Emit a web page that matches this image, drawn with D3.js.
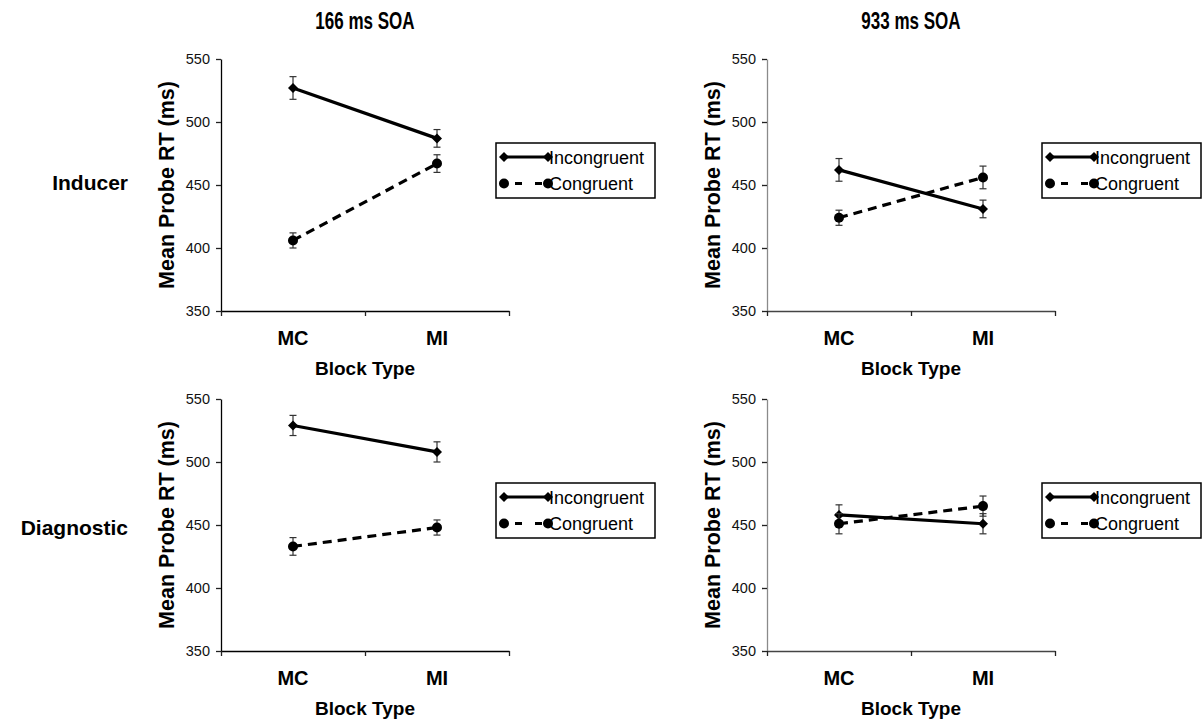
<!DOCTYPE html>
<html>
<head>
<meta charset="utf-8">
<script src="https://cdn.jsdelivr.net/npm/d3@7"></script>
<style>
  body { margin: 0; background: #fff; }
  text { font-family: "Liberation Sans", Arial, sans-serif; }
</style>
</head>
<body>
<svg id="canvas"></svg>
<script>
// values (mean probe RT in ms, with error bars)
const categories = ["MC", "MI"];
const seriesNames = ["Incongruent", "Congruent"];
const soaTitles = ["166 ms SOA", "933 ms SOA"];
const rowNames = ["Inducer", "Diagnostic"];
const yTicks = [350, 400, 450, 500, 550];

const inducer166Incongruent = [527, 487];
const inducer166IncongruentErr = [9, 7];
const inducer166Congruent = [406, 467];
const inducer166CongruentErr = [6, 7];

const inducer933Incongruent = [462, 431];
const inducer933IncongruentErr = [9, 7];
const inducer933Congruent = [424, 456];
const inducer933CongruentErr = [6, 9];

const diagnostic166Incongruent = [529, 508];
const diagnostic166IncongruentErr = [8, 8];
const diagnostic166Congruent = [433, 448];
const diagnostic166CongruentErr = [7, 6];

const diagnostic933Incongruent = [458, 451];
const diagnostic933IncongruentErr = [8, 8];
const diagnostic933Congruent = [451, 465];
const diagnostic933CongruentErr = [8, 8];

const svg = d3.select("#canvas");
const width = 1202;
const height = 724;
svg.attr("width", width).attr("height", height);

// panel layout (plot area corners)
const colX = [221, 767];
const rowY = [59, 399];
const plotW = 288;
const plotH = 252;

const panels = [
  {col: 0, row: 0, inc: inducer166Incongruent, incErr: inducer166IncongruentErr, con: inducer166Congruent, conErr: inducer166CongruentErr},
  {col: 1, row: 0, inc: inducer933Incongruent, incErr: inducer933IncongruentErr, con: inducer933Congruent, conErr: inducer933CongruentErr},
  {col: 0, row: 1, inc: diagnostic166Incongruent, incErr: diagnostic166IncongruentErr, con: diagnostic166Congruent, conErr: diagnostic166CongruentErr},
  {col: 1, row: 1, inc: diagnostic933Incongruent, incErr: diagnostic933IncongruentErr, con: diagnostic933Congruent, conErr: diagnostic933CongruentErr}
];

const diamond = "M0,-5L5,0L0,5L-5,0Z";

function marker(sel, kind) {
  if (kind === 0) {
    sel.append("path").attr("d", diamond).attr("fill", "#000");
  } else {
    sel.append("circle").attr("r", 5).attr("fill", "#000");
  }
}

panels.forEach(p => {
  const x0 = colX[p.col];
  const y0 = rowY[p.row];
  const axisColor = p.col === 0 ? "#000" : "#8a8a8a";

  const xScale = d3.scaleBand().domain(categories).range([x0, x0 + plotW]);
  const xEdges = d3.scaleLinear().domain([0, categories.length]).range([x0, x0 + plotW]);
  const yScale = d3.scaleLinear().domain([350, 550]).range([y0 + plotH, y0]);

  const g = svg.append("g");

  // y axis
  const ya = g.append("g")
    .attr("transform", `translate(${x0},0)`)
    .call(d3.axisLeft(yScale).tickValues(yTicks).tickSize(5).tickSizeOuter(0));
  ya.select(".domain").attr("stroke", axisColor).attr("stroke-width", 1.3);
  ya.selectAll(".tick line").attr("stroke", "#222").attr("stroke-width", 1.3);
  ya.selectAll(".tick text").attr("font-size", 14.5).attr("fill", "#111")
    .attr("font-family", "Liberation Sans, Arial, sans-serif").attr("x", -11);

  // x axis with ticks at category boundaries
  const xa = g.append("g")
    .attr("transform", `translate(0,${y0 + plotH})`)
    .call(d3.axisBottom(xEdges).tickValues([0, 1, 2]).tickFormat("").tickSize(5).tickSizeOuter(0));
  xa.select(".domain").attr("stroke", p.col === 0 ? "#000" : "#444").attr("stroke-width", 1.3);
  xa.selectAll(".tick line").attr("stroke", "#222").attr("stroke-width", 1.3);

  // category labels
  const xl = g.append("g")
    .attr("transform", `translate(0,${y0 + plotH})`)
    .call(d3.axisBottom(xScale).tickSize(0));
  xl.select(".domain").remove();
  xl.selectAll(".tick text")
    .attr("y", 34).attr("dy", 0)
    .attr("font-size", 20).attr("font-weight", "bold").attr("fill", "#000")
    .attr("font-family", "Liberation Sans, Arial, sans-serif");

  g.append("text")
    .attr("x", x0 + plotW / 2).attr("y", y0 + plotH + 64)
    .attr("text-anchor", "middle").attr("font-size", 19).attr("font-weight", "bold")
    .text("Block Type");

  g.append("text")
    .attr("transform", `translate(${x0 - 47},${y0 + plotH / 2}) rotate(-90)`)
    .attr("text-anchor", "middle").attr("font-size", 21.5).attr("font-weight", "bold")
    .text("Mean Probe RT (ms)");

  const series = [
    {vals: p.inc, errs: p.incErr, dash: null},
    {vals: p.con, errs: p.conErr, dash: "9,6"}
  ];

  const line = d3.line()
    .x((d, i) => xScale(categories[i]) + xScale.bandwidth() / 2)
    .y(d => yScale(d));

  series.forEach((s, k) => {
    // error bars
    s.vals.forEach((v, i) => {
      const cx = xScale(categories[i]) + xScale.bandwidth() / 2;
      const top = yScale(v + s.errs[i]);
      const bot = yScale(v - s.errs[i]);
      g.append("line").attr("x1", cx).attr("x2", cx).attr("y1", top).attr("y2", bot)
        .attr("stroke", "#333").attr("stroke-width", 1.2);
      [top, bot].forEach(yy => g.append("line")
        .attr("x1", cx - 3.5).attr("x2", cx + 3.5).attr("y1", yy).attr("y2", yy)
        .attr("stroke", "#333").attr("stroke-width", 1.2));
    });
    g.append("path")
      .attr("d", line(s.vals))
      .attr("fill", "none").attr("stroke", "#000").attr("stroke-width", 3.2)
      .attr("stroke-dasharray", s.dash);
    s.vals.forEach((v, i) => {
      const m = g.append("g")
        .attr("transform", `translate(${xScale(categories[i]) + xScale.bandwidth() / 2},${yScale(v)})`);
      marker(m, k);
    });
  });

  // legend
  const lx = x0 + 275;
  const ly = y0 + 84;
  const lg = g.append("g").attr("transform", `translate(${lx},${ly})`);
  lg.append("rect").attr("width", 159).attr("height", 55)
    .attr("fill", "#fff").attr("stroke", "#000").attr("stroke-width", 1.5);
  seriesNames.forEach((name, k) => {
    const yy = 14 + k * 26.5;
    lg.append("line").attr("x1", 8).attr("x2", 52).attr("y1", yy).attr("y2", yy)
      .attr("stroke", "#000").attr("stroke-width", 3)
      .attr("stroke-dasharray", k === 1 ? "7,13" : null)
      .attr("stroke-dashoffset", k === 1 ? 9 : 0);
    [8, 52].forEach(mx => marker(lg.append("g").attr("transform", `translate(${mx},${yy})`), k));
    lg.append("text").attr("x", 53).attr("y", yy + 6.5)
      .attr("font-size", 18).attr("fill", "#000").text(name);
  });
});

// column titles (condensed bold, like Arial Narrow)
soaTitles.forEach((t, c) => {
  svg.append("text")
    .attr("transform", `translate(${colX[c] + plotW / 2},29) scale(0.74,1)`)
    .attr("text-anchor", "middle").attr("font-size", 23).attr("font-weight", "bold")
    .text(t);
});

// row labels
const rowBaselines = [190, 535];
rowNames.forEach((t, r) => {
  svg.append("text")
    .attr("x", 128).attr("y", rowBaselines[r])
    .attr("text-anchor", "end").attr("font-size", 21).attr("font-weight", "bold")
    .text(t);
});
</script>
</body>
</html>
